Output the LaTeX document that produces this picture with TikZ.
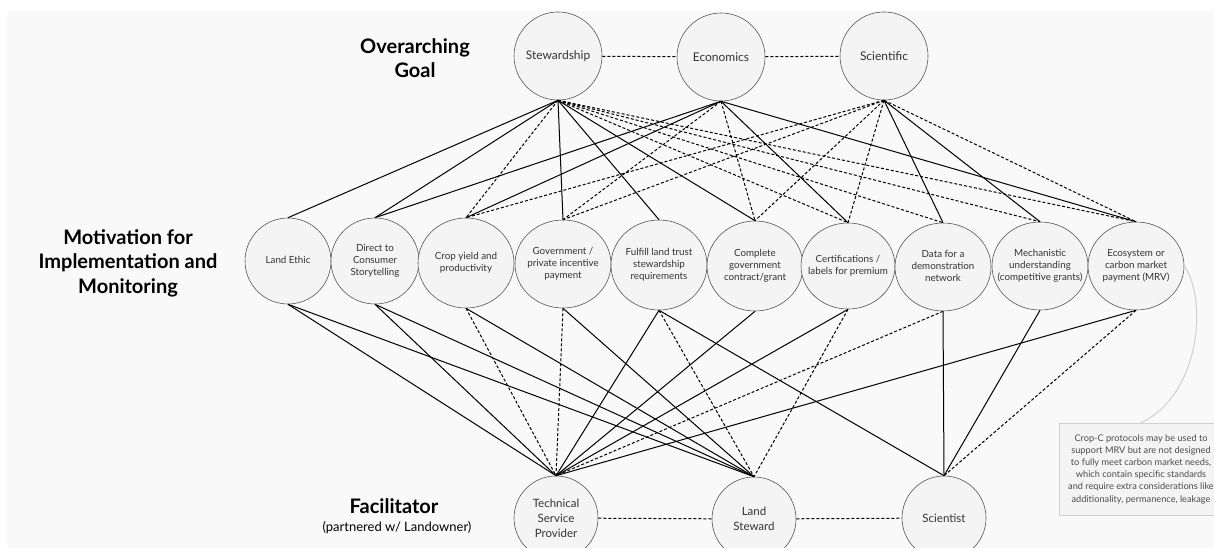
\documentclass[tikz,border=0pt]{standalone}
\usepackage{fontspec}
\setmainfont{Lato}
\usetikzlibrary{shapes.geometric}

\definecolor{panel}{HTML}{F9F9F9}
\definecolor{bubble}{HTML}{F4F4F4}
\definecolor{rim}{HTML}{555555}
\definecolor{ink}{HTML}{333333}
\definecolor{notegray}{HTML}{CFCFCF}

% text inside an ellipse, kept out of the shape size
\newcommand{\mtext}[1]{\makebox[0pt]{\begin{tabular}{@{}c@{}}#1\end{tabular}}}

\begin{document}
\begin{tikzpicture}[x=1pt, y=-1pt,
    goal/.style={circle, draw=rim, fill=bubble, line width=0.6pt, minimum size=88pt,
      inner sep=0pt, text=ink, font=\fontsize{12}{14}\selectfont},
    motive/.style={ellipse, draw=rim, fill=bubble, line width=0.6pt, minimum width=96pt,
      minimum height=88pt, inner sep=0pt, text=ink, font=\fontsize{9.8}{12.3}\selectfont},
    facil/.style={circle, draw=rim, fill=bubble, line width=0.6pt, minimum size=84pt,
      inner sep=0pt, align=center, text=ink, font=\fontsize{11.5}{15}\selectfont},
    heading/.style={align=center, font=\fontsize{20}{24.5}\selectfont\bfseries},
    solidlink/.style={line width=1pt},
    dashlink/.style={line width=1pt, dash pattern=on 3pt off 2pt},
    notebox/.style={draw=notegray, fill=bubble, minimum width=164pt, minimum height=92pt,
      align=center, text=black!70, font=\fontsize{9.2}{12.2}\selectfont},
  ]
  \useasboundingbox (0,0) rectangle (1214,548);
  \clip (0,0) rectangle (1214,548);
  \fill[white] (0,0) rectangle (1214,548);
  \fill[panel] (7,11) rectangle (1214,548);

  % row labels
  \node[heading] (goalhead) at (415,58) {Overarching\\Goal};
  \node[heading] (motivehead) at (128,263) {Motivation for\\Implementation and\\Monitoring};
  \node[heading] (facilhead) at (394,506) {Facilitator};
  \node[font=\fontsize{13}{16}\selectfont] (partner) at (397,528) {(partnered w/ Landowner)};

  % goals
  \node[goal] (stew) at (558,56) {Stewardship};
  \node[goal] (econ) at (721,57) {Economics};
  \node[goal] (sci) at (884,56) {Scientific};

  % motivations
  \node[motive, minimum width=86pt, minimum height=86pt] (ethic) at (288,261) {\mtext{Land Ethic}};
  \node[motive, minimum width=88pt, minimum height=86pt] (story) at (375,261) {\mtext{Direct to\\Consumer\\Storytelling}};
  \node[motive, minimum height=90pt] (yield) at (466,263) {\mtext{Crop yield and\\productivity}};
  \node[motive] (incent) at (563,264) {\mtext{Government /\\private incentive\\payment}};
  \node[motive, minimum height=90pt] (trust) at (659,265) {\mtext{Fulfill land trust\\stewardship\\requirements}};
  \node[motive, minimum height=90pt] (contract) at (755,266) {\mtext{Complete\\government\\contract/grant}};
  \node[motive, minimum width=94pt, minimum height=86pt] (certif) at (848,266) {\mtext{Certifications /\\labels for premium}};
  \node[motive] (demo) at (943,267) {\mtext{Data for a\\demonstration\\network}};
  \node[motive] (mech) at (1040,266) {\mtext{Mechanistic\\understanding\\(competitive grants)}};
  \node[motive] (market) at (1136,266) {\mtext{Ecosystem or\\carbon market\\payment (MRV)}};

  % facilitators
  \node[facil] (tsp) at (556,518) {Technical\\Service\\Provider};
  \node[facil] (steward) at (754,519) {Land\\Steward};
  \node[facil] (scient) at (944,518) {Scientist};

  % note
  \node[notebox] (note) at (1141,469) {Crop-C protocols may be used to\\support MRV but are not designed\\to fully meet carbon market needs,\\which contain specific standards\\and require extra considerations like\\additionality, permanence, leakage};
  \draw[notegray, line width=1pt] (market.east) .. controls (1208,300) and (1200,395) .. (note.north);

  % same row
  \draw[dashlink] (stew) -- (econ);
  \draw[dashlink] (econ) -- (sci);
  \draw[dashlink] (tsp) -- (steward);
  \draw[dashlink] (steward) -- (scient);

  % goal to motivation
  \foreach \a/\b in {stew/ethic, stew/story, stew/incent, stew/trust, stew/contract,
      econ/story, econ/yield, econ/certif, econ/market, sci/demo, sci/mech}
    \draw[solidlink] (\a.south) -- (\b.north);
  \foreach \a/\b in {stew/yield, stew/certif, stew/demo, stew/mech, stew/market,
      econ/incent, econ/contract, sci/yield, sci/incent, sci/contract, sci/certif, sci/market}
    \draw[dashlink] (\a.south) -- (\b.north);

  % motivation to facilitator
  \foreach \a/\b in {ethic/tsp, ethic/steward, story/tsp, story/steward, yield/steward,
      incent/steward, trust/tsp, trust/scient, contract/tsp, certif/tsp, demo/scient,
      mech/scient, market/tsp}
    \draw[solidlink] (\a.south) -- (\b.north);
  \foreach \a/\b in {yield/tsp, incent/tsp, trust/steward, certif/steward, demo/tsp, market/scient}
    \draw[dashlink] (\a.south) -- (\b.north);
\end{tikzpicture}
\end{document}
